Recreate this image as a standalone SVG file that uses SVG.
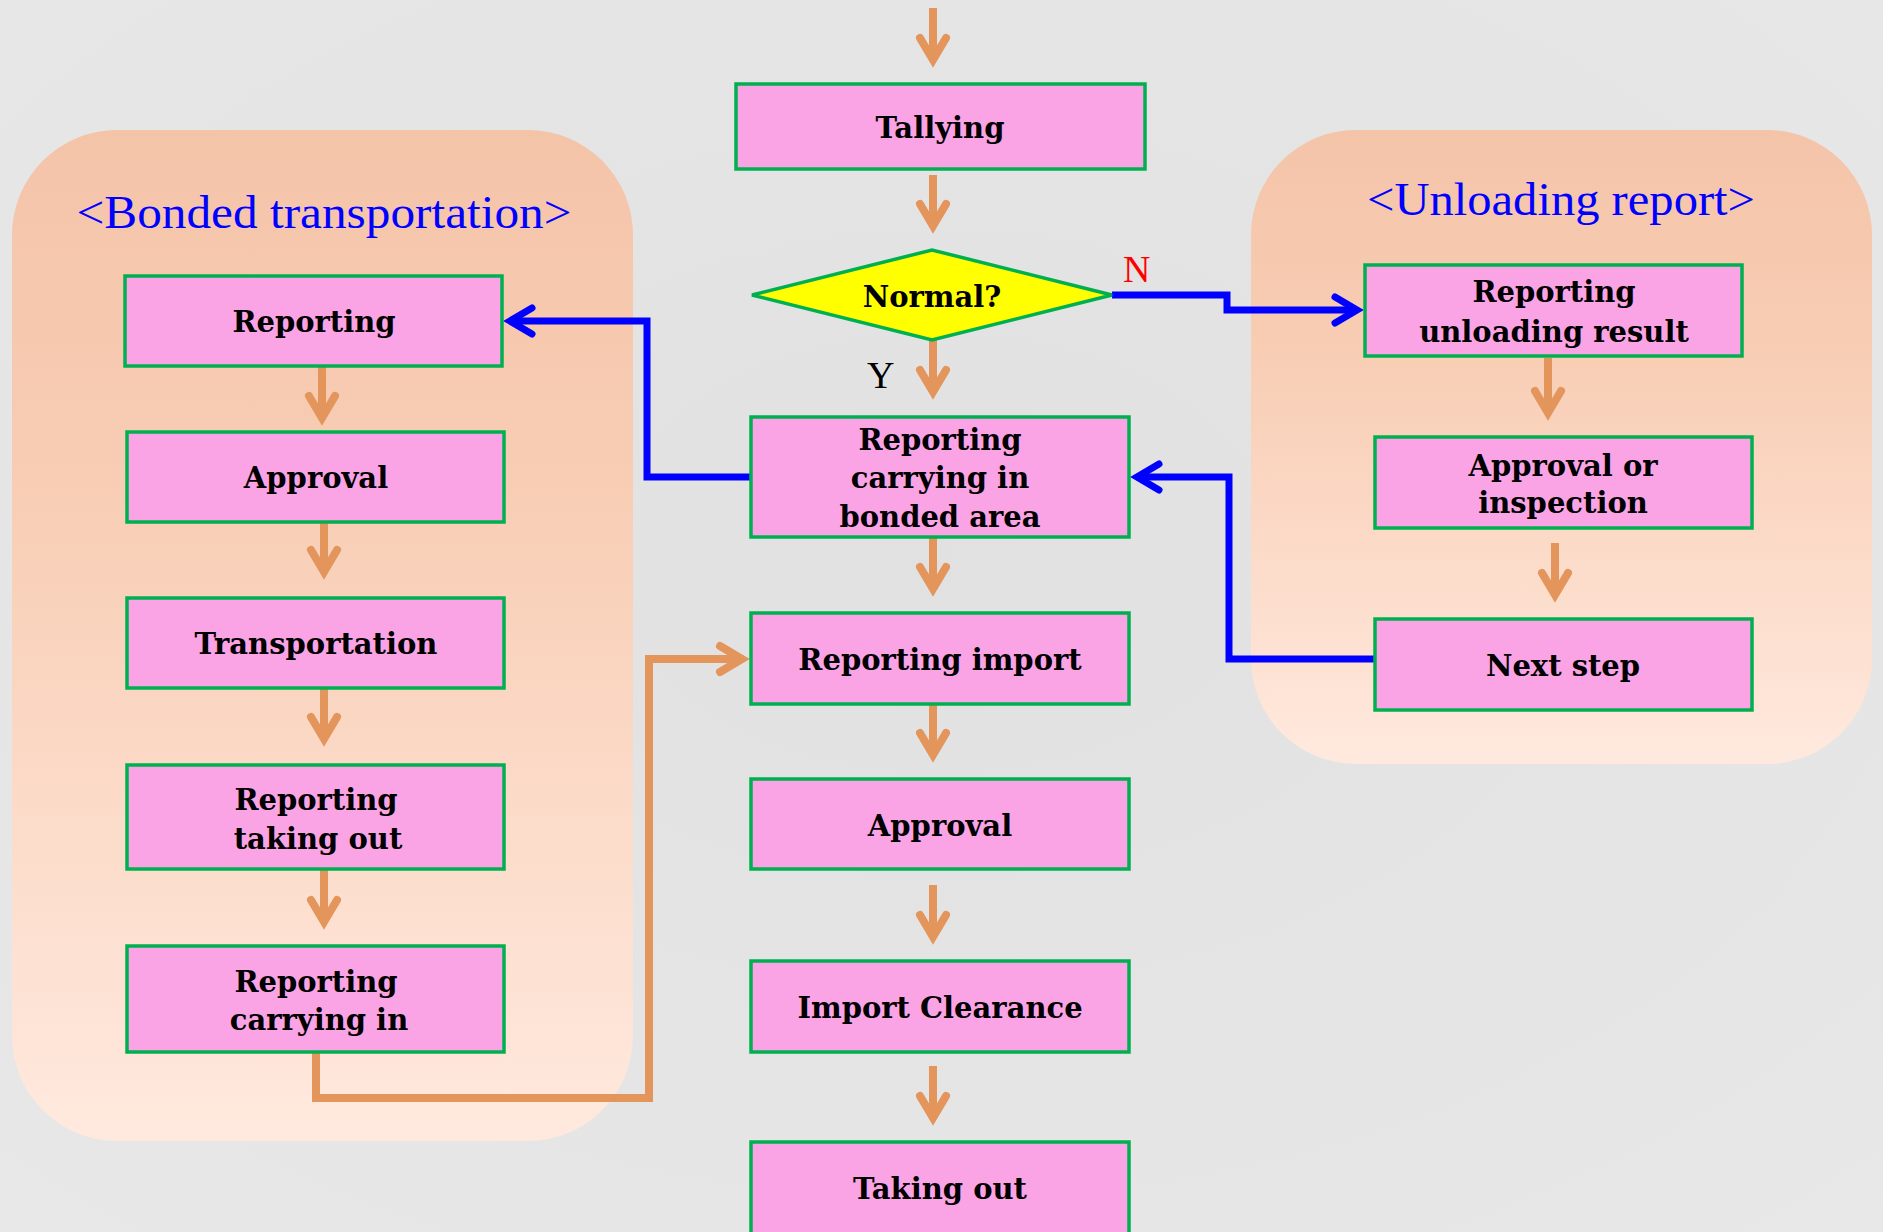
<svg xmlns="http://www.w3.org/2000/svg" width="1883" height="1232" viewBox="0 0 1883 1232">
  <style>
    .panel-title { font-family: "Liberation Serif", "Times New Roman", serif; font-size: 46px; fill: #0000FF; text-anchor: middle; }
    .box { fill: #FAA4E6; stroke: #00B050; stroke-width: 3.5; }
    .decision { fill: #FFFF00; stroke: #00B050; stroke-width: 3.5; stroke-linejoin: miter; }
    .lbl { font-family: "DejaVu Serif", "Liberation Serif", serif; font-weight: bold; font-size: 29px; fill: #000; text-anchor: middle; }
    .flow { fill: none; stroke: #E3955B; stroke-width: 8; stroke-linejoin: miter; marker-end: url(#headOrange); }
    .branch { fill: none; stroke: #0000FF; stroke-width: 7; stroke-linejoin: miter; marker-end: url(#headBlue); }
    .yn { font-family: "Liberation Serif", "Times New Roman", serif; font-size: 38px; }
  </style>
  <defs>
    <linearGradient id="panelFill" x1="0" y1="0" x2="0" y2="1">
      <stop offset="0" stop-color="#F4C4A9"/>
      <stop offset="0.35" stop-color="#F8CDB4"/>
      <stop offset="1" stop-color="#FFE9DE"/>
    </linearGradient>
    <radialGradient id="bgFill" cx="0.5" cy="0.45" r="0.8">
      <stop offset="0" stop-color="#E1E1E1"/>
      <stop offset="1" stop-color="#E8E8E8"/>
    </radialGradient>
    <marker id="headOrange" viewBox="0 0 50 40" markerWidth="50" markerHeight="40" refX="34" refY="20" orient="auto" markerUnits="userSpaceOnUse">
      <path d="M12 7 L34 20 L12 33" fill="none" stroke="#E3955B" stroke-width="8" stroke-linecap="round" stroke-linejoin="miter"/>
    </marker>
    <marker id="headBlue" viewBox="0 0 50 40" markerWidth="50" markerHeight="40" refX="34" refY="20" orient="auto" markerUnits="userSpaceOnUse">
      <path d="M12 7 L34 20 L12 33" fill="none" stroke="#0000FF" stroke-width="7" stroke-linecap="round" stroke-linejoin="miter"/>
    </marker>
  </defs>

  <!-- background -->
  <rect x="0" y="0" width="1883" height="1232" fill="url(#bgFill)"/>

  <!-- grouping panels -->
  <g id="panel-bonded">
    <rect x="12" y="130" width="621" height="1011" rx="105" ry="105" fill="url(#panelFill)"/>
    <text class="panel-title" x="324" y="228" textLength="495" lengthAdjust="spacingAndGlyphs">&lt;Bonded transportation&gt;</text>
  </g>
  <g id="panel-unloading">
    <rect x="1251" y="130" width="621" height="634" rx="105" ry="105" fill="url(#panelFill)"/>
    <text class="panel-title" x="1561" y="215" textLength="388" lengthAdjust="spacingAndGlyphs">&lt;Unloading report&gt;</text>
  </g>

  <!-- connectors -->
  <g id="connectors">
    <!-- main column -->
    <path class="flow" d="M933 8 V60"/>
    <path class="flow" d="M933 175 V226"/>
    <path class="flow" d="M933 340 V392"/>
    <path class="flow" d="M933 537 V589"/>
    <path class="flow" d="M933 704 V755"/>
    <path class="flow" d="M933 885 V937"/>
    <path class="flow" d="M933 1066 V1118"/>
    <!-- bonded transportation column -->
    <path class="flow" d="M322 366 V418"/>
    <path class="flow" d="M324 522 V572"/>
    <path class="flow" d="M324 688 V739"/>
    <path class="flow" d="M324 870 V922"/>
    <path class="flow" d="M316 1052 V1098 H649 V659 H742"/>
    <!-- unloading report column -->
    <path class="flow" d="M1548 358 V413"/>
    <path class="flow" d="M1555 543 V595"/>
    <!-- branches -->
    <path class="branch" d="M1112 295 H1227 V310 H1357"/>
    <path class="branch" d="M1375 659 H1229 V477 H1137"/>
    <path class="branch" d="M751 477 H647 V321 H510"/>
    <text class="yn" x="1123" y="282" fill="#FF0000">N</text>
    <text class="yn" x="867" y="388" fill="#000">Y</text>
  </g>

  <!-- main column nodes -->
  <g id="tallying">
    <rect class="box" x="736" y="84" width="409" height="85"/>
    <text class="lbl" x="940" y="138">Tallying</text>
  </g>
  <g id="normal">
    <polygon class="decision" points="752,295 932,250 1112,295 932,340"/>
    <text class="lbl" x="932" y="307" font-size="28">Normal?</text>
  </g>
  <g id="reporting-bonded-area">
    <rect class="box" x="751" y="417" width="378" height="120"/>
    <text class="lbl" x="940" y="450">Reporting</text>
    <text class="lbl" x="940" y="488">carrying in</text>
    <text class="lbl" x="940" y="527">bonded area</text>
  </g>
  <g id="reporting-import">
    <rect class="box" x="751" y="613" width="378" height="91"/>
    <text class="lbl" x="940" y="670">Reporting import</text>
  </g>
  <g id="approval-main">
    <rect class="box" x="751" y="779" width="378" height="90"/>
    <text class="lbl" x="940" y="836">Approval</text>
  </g>
  <g id="import-clearance">
    <rect class="box" x="751" y="961" width="378" height="91"/>
    <text class="lbl" x="940" y="1018">Import Clearance</text>
  </g>
  <g id="taking-out">
    <rect class="box" x="751" y="1142" width="378" height="100"/>
    <text class="lbl" x="940" y="1199">Taking out</text>
  </g>

  <!-- bonded transportation nodes -->
  <g id="bt-reporting">
    <rect class="box" x="125" y="276" width="377" height="90"/>
    <text class="lbl" x="314" y="332">Reporting</text>
  </g>
  <g id="bt-approval">
    <rect class="box" x="127" y="432" width="377" height="90"/>
    <text class="lbl" x="316" y="488">Approval</text>
  </g>
  <g id="bt-transportation">
    <rect class="box" x="127" y="598" width="377" height="90"/>
    <text class="lbl" x="316" y="654">Transportation</text>
  </g>
  <g id="bt-taking-out">
    <rect class="box" x="127" y="765" width="377" height="104"/>
    <text class="lbl" x="316" y="810">Reporting</text>
    <text class="lbl" x="318" y="849">taking out</text>
  </g>
  <g id="bt-carrying-in">
    <rect class="box" x="127" y="946" width="377" height="106"/>
    <text class="lbl" x="316" y="992">Reporting</text>
    <text class="lbl" x="319" y="1030">carrying in</text>
  </g>

  <!-- unloading report nodes -->
  <g id="ur-reporting">
    <rect class="box" x="1365" y="265" width="377" height="91"/>
    <text class="lbl" x="1554" y="302">Reporting</text>
    <text class="lbl" x="1554" y="342">unloading result</text>
  </g>
  <g id="ur-approval">
    <rect class="box" x="1375" y="437" width="377" height="91"/>
    <text class="lbl" x="1563" y="476">Approval or</text>
    <text class="lbl" x="1563" y="513">inspection</text>
  </g>
  <g id="ur-next-step">
    <rect class="box" x="1375" y="619" width="377" height="91"/>
    <text class="lbl" x="1563" y="676">Next step</text>
  </g>
</svg>
